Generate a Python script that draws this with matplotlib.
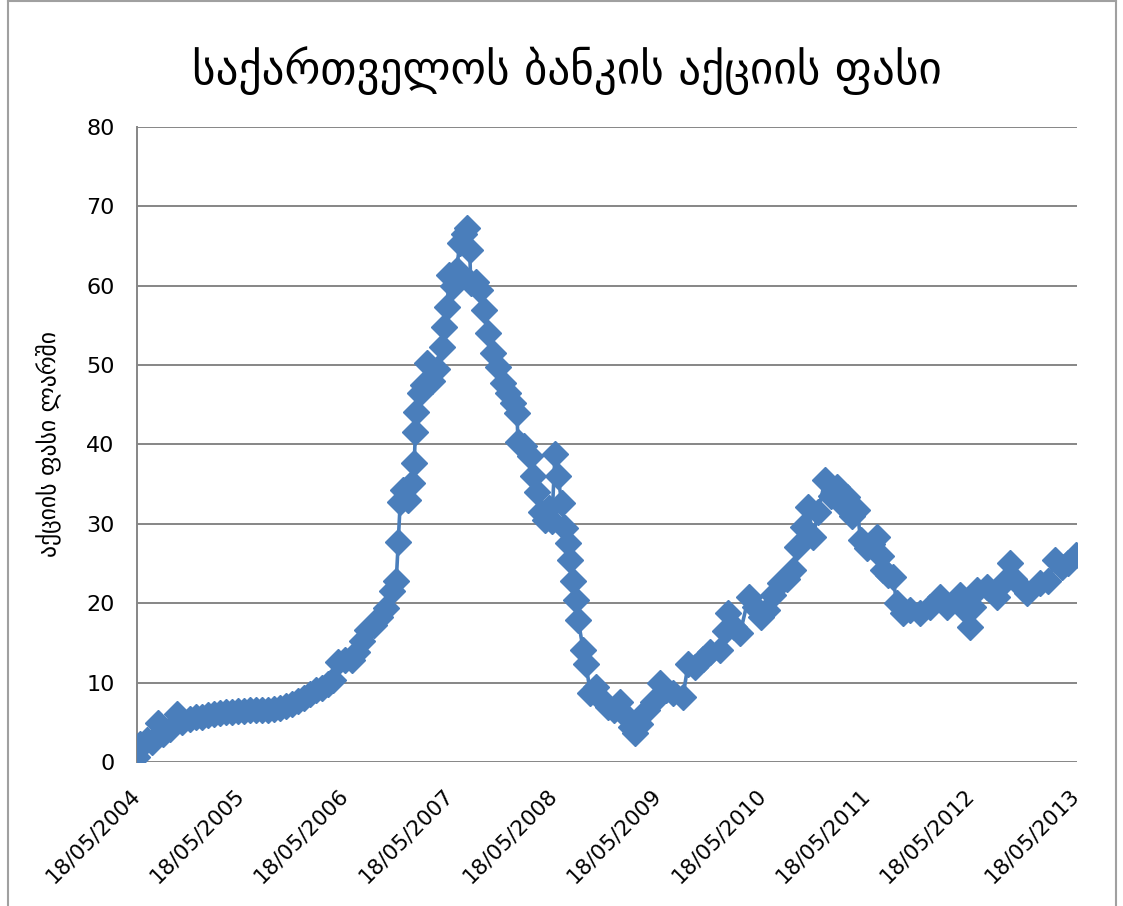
import matplotlib
matplotlib.use("Agg")
import matplotlib.pyplot as plt
import matplotlib.dates as mdates
import pandas as pd
from matplotlib.lines import Line2D

# Bank of Georgia share price (GEL)
dates = [
    "2004-05-18", "2004-05-28", "2004-06-22", "2004-07-09", "2004-07-30", "2004-08-17",
    "2004-09-10", "2004-10-05", "2004-10-22", "2004-11-19", "2004-12-10", "2004-12-31",
    "2005-01-21", "2005-02-11", "2005-03-04", "2005-03-25", "2005-04-15", "2005-05-06",
    "2005-05-27", "2005-06-18", "2005-07-09", "2005-07-30", "2005-08-20", "2005-09-10",
    "2005-10-01", "2005-10-22", "2005-11-12", "2005-12-03", "2005-12-24", "2006-01-14",
    "2006-02-04", "2006-02-25", "2006-03-18", "2006-04-05", "2006-04-22", "2006-05-16",
    "2006-06-09", "2006-06-27", "2006-07-15", "2006-08-02", "2006-08-26", "2006-09-16",
    "2006-10-08", "2006-10-29", "2006-11-12", "2006-11-19", "2006-11-26", "2006-12-07",
    "2006-12-24", "2007-01-07", "2007-01-14", "2007-01-18", "2007-01-21", "2007-02-04",
    "2007-02-15", "2007-03-01", "2007-03-18", "2007-04-05", "2007-04-22", "2007-04-29",
    "2007-05-10", "2007-05-15", "2007-05-29", "2007-06-12", "2007-06-22", "2007-07-06",
    "2007-07-17", "2007-07-27", "2007-07-31", "2007-08-18", "2007-09-01", "2007-09-15",
    "2007-09-29", "2007-10-17", "2007-11-03", "2007-11-21", "2007-12-08", "2007-12-26",
    "2008-01-09", "2008-01-12", "2008-02-02", "2008-02-23", "2008-03-05", "2008-03-19",
    "2008-04-02", "2008-04-16", "2008-04-30", "2008-05-10", "2008-05-21", "2008-05-31",
    "2008-06-14", "2008-06-25", "2008-07-06", "2008-07-13", "2008-07-23", "2008-08-03",
    "2008-08-10", "2008-08-28", "2008-09-07", "2008-09-21", "2008-10-12", "2008-11-02",
    "2008-11-23", "2008-12-14", "2009-01-04", "2009-01-25", "2009-02-12", "2009-02-26",
    "2009-03-16", "2009-04-09", "2009-04-30", "2009-05-23", "2009-06-13", "2009-07-08",
    "2009-08-12", "2009-08-30", "2009-09-24", "2009-10-22", "2009-11-16", "2009-12-21",
    "2010-01-08", "2010-01-18", "2010-02-08", "2010-03-01", "2010-03-30", "2010-04-20",
    "2010-05-11", "2010-06-02", "2010-06-23", "2010-07-17", "2010-08-11", "2010-09-01",
    "2010-09-15", "2010-10-06", "2010-10-24", "2010-11-11", "2010-11-28", "2010-12-23",
    "2011-01-13", "2011-02-03", "2011-02-21", "2011-03-10", "2011-03-28", "2011-04-15",
    "2011-04-26", "2011-05-17", "2011-06-04", "2011-06-21", "2011-07-05", "2011-07-12",
    "2011-07-30", "2011-08-17", "2011-08-31", "2011-09-21", "2011-10-16", "2011-11-20",
    "2011-12-25", "2012-01-29", "2012-02-23", "2012-04-08", "2012-04-26", "2012-05-14",
    "2012-05-24", "2012-06-07", "2012-07-12", "2012-08-16", "2012-09-06", "2012-10-01",
    "2012-10-15", "2012-11-30", "2013-01-14", "2013-02-11", "2013-03-08", "2013-04-02",
    "2013-04-23", "2013-05-18",
]
prices = [
    0.6, 2.3, 2.8, 2.5, 4.9, 3.5,
    4.2, 6.0, 5.0, 5.4, 5.6, 5.7,
    5.9, 6.1, 6.2, 6.3, 6.3, 6.4,
    6.4, 6.5, 6.5, 6.6, 6.6, 6.7,
    6.8, 7.0, 7.3, 7.7, 8.1, 8.6,
    9.0, 9.3, 9.8, 10.3, 12.6, 12.8,
    12.9, 13.8, 15.2, 16.6, 17.3, 18.3,
    19.4, 21.5, 22.8, 27.7, 32.8, 34.3,
    33.0, 35.1, 37.7, 41.6, 44.1, 46.5,
    47.5, 50.3, 48.0, 49.5, 52.3, 54.8,
    57.3, 61.4, 60.0, 62.0, 65.4, 66.5,
    67.2, 64.5, 60.3, 60.5, 59.5, 56.9,
    54.0, 51.5, 49.8, 47.7, 46.5, 45.2,
    44.0, 40.3, 39.8, 38.5, 36.0, 34.0,
    31.5, 30.5, 32.0, 30.3, 38.8, 36.0,
    32.6, 29.5, 27.6, 25.4, 22.8, 20.4,
    17.9, 14.1, 12.3, 8.7, 9.5, 7.8,
    6.9, 6.5, 7.5, 5.8, 4.4, 3.6,
    4.8, 6.5, 7.5, 9.9, 9.0, 8.7,
    8.2, 12.3, 12.0, 13.0, 13.8, 14.1,
    16.5, 18.8, 17.0, 16.3, 20.8, 19.5,
    18.3, 19.1, 21.0, 22.5, 23.0, 24.2,
    27.1, 29.6, 32.1, 28.3, 31.5, 35.5,
    33.5, 34.6, 32.5, 33.4, 31.0, 31.7,
    28.0, 27.0, 27.5, 28.3, 26.0, 24.2,
    23.5, 23.3, 20.0, 18.8, 19.2, 18.8,
    19.5, 20.8, 19.5, 21.0, 19.1, 17.0,
    19.5, 21.7, 22.0, 20.8, 22.5, 25.0,
    23.0, 21.3, 22.5, 22.8, 25.4, 24.6,
    25.0, 26.1,
]
tick_dates = ["2004-05-18", "2005-05-18", "2006-05-18", "2007-05-18", "2008-05-18",
              "2009-05-18", "2010-05-18", "2011-05-18", "2012-05-18", "2013-05-18"]
y_ticks = [0, 10, 20, 30, 40, 50, 60, 70, 80]

title = "საქართველოს ბანკის აქციის ფასი"
y_label = "აქციის ფასი ლარში"

BLUE = "#4a7ebb"
GRID = "#868686"

x = pd.to_datetime(dates)
ticks = pd.to_datetime(tick_dates)

fig = plt.figure(figsize=(11.23, 9.06), dpi=100)
ax = fig.add_axes([0.122, 0.159, 0.837, 0.701])

ax.plot(x, prices, color=BLUE, linewidth=2.6, marker="D", markersize=13,
        markerfacecolor=BLUE, markeredgecolor=BLUE, zorder=3)

ax.set_ylim(0, 80)
ax.set_yticks(y_ticks)
ax.set_xlim(ticks[0], ticks[-1] + pd.Timedelta(days=5))
ax.set_xticks(ticks)
ax.xaxis.set_major_formatter(mdates.DateFormatter("%d/%m/%Y"))
for lbl in ax.get_xticklabels():
    lbl.set_rotation(45)
    lbl.set_ha("right")
    lbl.set_va("center")
    lbl.set_rotation_mode("anchor")

ax.tick_params(axis="y", length=0, labelsize=16, pad=16)
ax.tick_params(axis="x", length=0, labelsize=15.5, pad=22)
ax.grid(axis="y", color=GRID, linewidth=1.4)
ax.set_axisbelow(True)
for side in ["top", "right", "bottom"]:
    ax.spines[side].set_visible(False)
ax.spines["left"].set_color(GRID)
ax.spines["left"].set_linewidth(1.4)

ax.set_ylabel(y_label, fontsize=17, labelpad=18)
fig.text(0.505, 0.922, title, fontsize=32.5, ha="center", va="center")

# chart area border
fig.add_artist(Line2D([0.007, 0.007], [0, 1], color="#a0a0a0", linewidth=1.5))
fig.add_artist(Line2D([0.994, 0.994], [0, 1], color="#a0a0a0", linewidth=1.5))
fig.add_artist(Line2D([0.007, 0.994], [0.999, 0.999], color="#a0a0a0", linewidth=1.5))

fig.savefig("out.png", dpi=100)
